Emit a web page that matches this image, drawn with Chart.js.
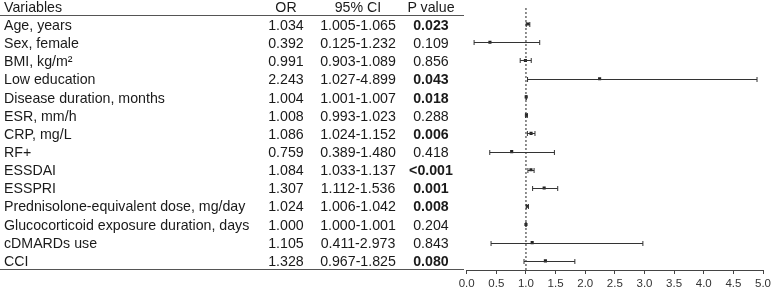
<!DOCTYPE html>
<html>
<head>
<meta charset="utf-8">
<script src="https://cdn.jsdelivr.net/npm/chart.js@4.4.0/dist/chart.umd.min.js"></script>
<style>
  html,body{margin:0;padding:0;background:#fff;}
  #wrap{position:relative;width:774px;height:288px;overflow:hidden;font-family:"Liberation Sans",Arial,sans-serif;font-size:14.2px;color:#1a1a1a;}
  #chart{position:absolute;left:0;top:0;}
  .cell{position:absolute;white-space:nowrap;}
  .c{text-align:center;}
  .hline{position:absolute;left:0;width:464px;height:0;border-top:1.5px solid #555;}
</style>
</head>
<body>
<div id="wrap">
  <canvas id="chart" width="774" height="288"></canvas>
  <div id="table"></div>
</div>
<script>
// data
const variables = ['Age, years','Sex, female','BMI, kg/m²','Low education','Disease duration, months','ESR, mm/h','CRP, mg/L','RF+','ESSDAI','ESSPRI','Prednisolone-equivalent dose, mg/day','Glucocorticoid exposure duration, days','cDMARDs use','CCI'];
const orVals  = [1.034,0.392,0.991,2.243,1.004,1.008,1.086,0.759,1.084,1.307,1.024,1.000,1.105,1.328];
const ciLow   = [1.005,0.125,0.903,1.027,1.001,0.993,1.024,0.389,1.033,1.112,1.006,1.000,0.411,0.967];
const ciHigh  = [1.065,1.232,1.089,4.899,1.007,1.023,1.152,1.480,1.137,1.536,1.042,1.001,2.973,1.825];
const pVals   = ['0.023','0.109','0.856','0.043','0.018','0.288','0.006','0.418','<0.001','0.001','0.008','0.204','0.843','0.080'];
const pBold   = [true,false,false,true,true,false,true,false,true,true,true,false,false,true];
const headers = ['Variables','OR','95% CI','P value'];
const xTicks  = [0,0.5,1,1.5,2,2.5,3,3.5,4,4.5,5];

const ROW_TOP = 16, ROW_H = 18.14;
const colX = {or:286, ci:358, p:431};

// table text (html)
const tbl = document.getElementById('table');
function addCell(txt, left, top, h, center, bold){
  const d = document.createElement('div');
  d.className = 'cell' + (center ? ' c' : '');
  d.style.top = top + 'px';
  d.style.height = h + 'px';
  d.style.lineHeight = h + 'px';
  if(center){ d.style.left = (left-60)+'px'; d.style.width = '120px'; }
  else d.style.left = left + 'px';
  if(bold) d.style.fontWeight = 'bold';
  d.textContent = txt;
  tbl.appendChild(d);
}
addCell(headers[0], 4, 0, 15, false);
addCell(headers[1], colX.or, 0, 15, true);
addCell(headers[2], colX.ci, 0, 15, true);
addCell(headers[3], colX.p, 0, 15, true);
variables.forEach((v,i)=>{
  const top = ROW_TOP + i*ROW_H;
  addCell(v, 4, top, ROW_H, false);
  addCell(orVals[i].toFixed(3), colX.or, top, ROW_H, true);
  addCell(ciLow[i].toFixed(3)+'-'+ciHigh[i].toFixed(3), colX.ci, top, ROW_H, true);
  addCell(pVals[i], colX.p, top, ROW_H, true, pBold[i]);
});
[15, 269].forEach(y=>{ const l=document.createElement('div'); l.className='hline'; l.style.top=y+'px'; tbl.appendChild(l); });

// error bars + caps drawn through the scales
const errorBars = {
  id:'errorBars',
  afterDatasetsDraw(chart){
    const {ctx, scales:{x,y}} = chart;
    ctx.save();
    ctx.strokeStyle = '#333';
    ctx.lineWidth = 1;
    orVals.forEach((v,i)=>{
      const yy = Math.round(y.getPixelForValue(i)) + 0.5;
      const x0 = x.getPixelForValue(ciLow[i]);
      const x1 = x.getPixelForValue(ciHigh[i]);
      ctx.beginPath();
      ctx.moveTo(x0, yy); ctx.lineTo(x1, yy);
      ctx.moveTo(x0, yy-2.5); ctx.lineTo(x0, yy+2.5);
      ctx.moveTo(x1, yy-2.5); ctx.lineTo(x1, yy+2.5);
      ctx.stroke();
    });
    ctx.restore();
  }
};

new Chart(document.getElementById('chart'), {
  type:'scatter',
  data:{
    datasets:[
      { data: orVals.map((v,i)=>({x:v, y:i})), pointStyle:'rect', pointRadius:2.2, backgroundColor:'#222', borderColor:'#222', borderWidth:0, order:0 },
      { type:'line', data:[{x:1,y:-0.88},{x:1,y:13.5}], borderColor:'#222', borderWidth:1, borderDash:[2,2], pointRadius:0, order:1 }
    ]
  },
  options:{
    responsive:false, animation:false, devicePixelRatio:1,
    layout:{ padding:{ left:466.7, right:8.3, top:8, bottom:0 } },
    plugins:{ legend:{display:false}, tooltip:{enabled:false} },
    scales:{
      x:{
        type:'linear', min:0, max:5,
        afterBuildTicks(s){ s.ticks = xTicks.map(v=>({value:v})); },
        afterFit(s){ s.height = 18; },
        grid:{ display:true, drawOnChartArea:false, drawTicks:true, tickLength:4, color:'#444' },
        border:{ display:true, color:'#444', width:1 },
        ticks:{ padding:3, color:'#333', font:{family:'"Liberation Sans", Arial, sans-serif', size:11.5}, callback:v=>Number(v).toFixed(1), maxRotation:0 }
      },
      y:{ type:'linear', min:-0.88, max:13.5, reverse:true, display:false }
    }
  },
  plugins:[errorBars]
});
</script>
</body>
</html>
